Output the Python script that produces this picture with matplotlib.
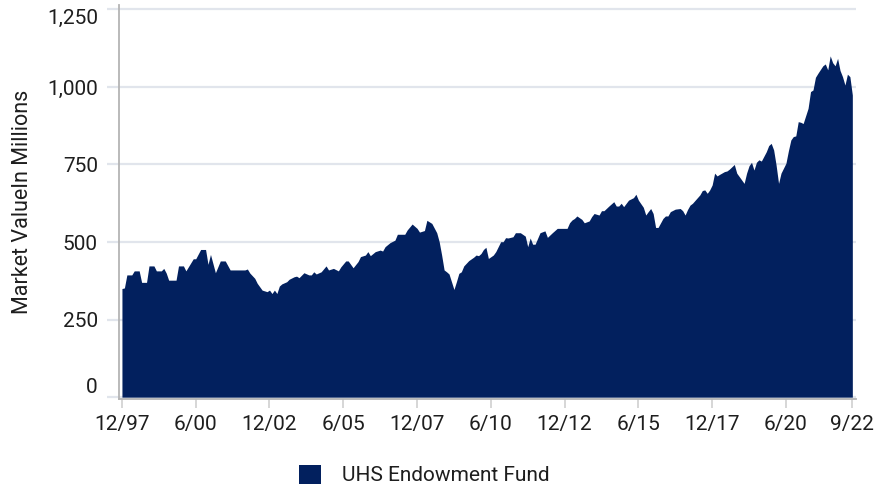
import matplotlib
matplotlib.use("Agg")
import matplotlib.pyplot as plt
from matplotlib.patches import Patch

plt.rcParams['font.family'] = ['Roboto', 'DejaVu Sans']

# months since 12/97 and market value ($ millions)
months = [0, 1, 2, 4, 5, 7, 8, 10, 11, 13, 14, 16, 17, 18, 19, 22, 23, 25, 26, 29,
          30, 32, 34, 35, 36, 38, 40, 42, 44, 50, 51, 52, 54, 55, 57, 59, 60, 61, 62, 63,
          64, 65, 67, 68, 70, 71, 72, 74, 76, 77, 78, 79, 81, 83, 84, 86, 88, 89, 91, 92,
          94, 96, 97, 99, 100, 101, 103, 105, 106, 107, 109, 111, 112, 115, 116, 118, 120, 121, 123, 124,
          126, 128, 129, 130, 131, 132, 133, 134, 135, 136, 137, 138, 139, 141, 143, 144, 145, 146, 147, 148,
          149, 151, 152, 154, 155, 156, 157, 159, 160, 162, 164, 165, 166, 167, 168, 170, 172, 173, 175, 177,
          181, 182, 183, 184, 185, 187, 188, 190, 191, 192, 194, 195, 196, 198, 199, 200, 201, 202, 203, 204,
          206, 208, 209, 210, 212, 213, 214, 215, 216, 217, 218, 220, 221, 222, 223, 225, 227, 228, 229, 230,
          231, 232, 234, 235, 236, 237, 238, 239, 240, 241, 242, 243, 245, 246, 247, 249, 250, 251, 253, 254,
          255, 256, 257, 258, 259, 260, 262, 263, 264, 265, 266, 267, 268, 270, 271, 272, 273, 274, 275, 276,
          277, 279, 280, 281, 282, 283, 285, 286, 287, 288, 289, 290, 291, 292, 293, 294, 295, 296, 297]
values = [350, 352, 394, 394, 407, 407, 370, 370, 423, 423, 407, 407, 415, 400, 377, 377, 423, 423, 407, 446,
          446, 476, 476, 428, 460, 401, 439, 439, 410, 410, 413, 400, 383, 367, 345, 340, 345, 334, 345, 334,
          358, 365, 372, 380, 388, 390, 385, 401, 394, 394, 404, 397, 404, 423, 410, 415, 407, 420, 439, 439,
          417, 437, 453, 458, 469, 456, 469, 474, 471, 485, 498, 506, 525, 525, 539, 558, 544, 532, 537, 570,
          560, 530, 501, 458, 410, 404, 397, 372, 347, 372, 399, 404, 423, 440, 451, 458, 456, 463, 476, 483,
          447, 458, 469, 501, 501, 514, 513, 517, 530, 530, 519, 485, 513, 493, 493, 530, 536, 515, 530, 544,
          544, 562, 571, 576, 584, 573, 562, 568, 582, 592, 587, 601, 601, 616, 623, 630, 616, 616, 625, 614,
          635, 643, 654, 635, 612, 587, 598, 608, 592, 547, 547, 576, 584, 584, 598, 606, 608, 601, 587, 605,
          619, 625, 643, 652, 666, 668, 657, 668, 684, 722, 713, 718, 727, 729, 735, 750, 722, 711, 689, 722,
          746, 757, 732, 757, 765, 761, 791, 811, 818, 797, 748, 689, 722, 754, 794, 829, 840, 842, 888, 886,
          882, 931, 985, 990, 1031, 1044, 1068, 1074, 1055, 1100, 1078, 1068, 1092, 1053, 1033, 1006, 1041, 1033, 974]

tick_months = [0, 30, 60, 90, 120, 150, 180, 210, 240, 270, 297]
tick_labels = ['12/97', '6/00', '12/02', '6/05', '12/07', '6/10', '12/12', '6/15', '12/17', '6/20', '9/22']
y_ticks = [0, 250, 500, 750, 1000, 1250]

navy = '#02205e'
grid_col = '#e1e5ec'
text_col = '#1e1e1e'

fig = plt.figure(figsize=(8.76, 4.87), dpi=100)
ax = fig.add_axes([0.1364, 0.1807, 0.8408, 0.809])

ax.fill_between(months, values, 0, color=navy, lw=0, zorder=2)

ax.set_xlim(-1, 298.5)
ax.set_ylim(-6, 1264)

ax.set_yticks(y_ticks)
ax.set_yticklabels([f'{v:,}' for v in y_ticks])
ax.set_xticks(tick_months)
ax.set_xticklabels(tick_labels)

ax.set_axisbelow(True)
ax.grid(axis='y', color=grid_col, lw=1.6)
ax.tick_params(axis='y', length=8.6, width=1.6, color=grid_col, pad=7,
               labelsize=15, labelcolor=text_col)
ax.tick_params(axis='x', length=6.5, width=1.2, color='#d0d0d0', pad=5,
               labelsize=15, labelcolor=text_col)

# end labels sit inside the axis range in the original
ylabels = ax.get_yticklabels()
ylabels[0].set_va('bottom')
ylabels[-1].set_va('top')

for side in ['top', 'right']:
    ax.spines[side].set_visible(False)
ax.spines['left'].set_color('#b4b4b4')
ax.spines['left'].set_linewidth(1.3)
ax.spines['bottom'].set_color('#b4b4b4')
ax.spines['bottom'].set_linewidth(1.3)

ax.set_ylabel('Market ValueIn Millions', fontsize=15.5, color=text_col, labelpad=10)

handle = Patch(facecolor=navy, edgecolor='none', label='UHS Endowment Fund')
fig.legend(handles=[handle], loc='center', bbox_to_anchor=(424 / 876, 1 - 475 / 487),
           frameon=False, fontsize=15, handlelength=1.05, handleheight=1.05,
           handletextpad=1.0, labelcolor=text_col)

plt.savefig('out.png', dpi=100)
